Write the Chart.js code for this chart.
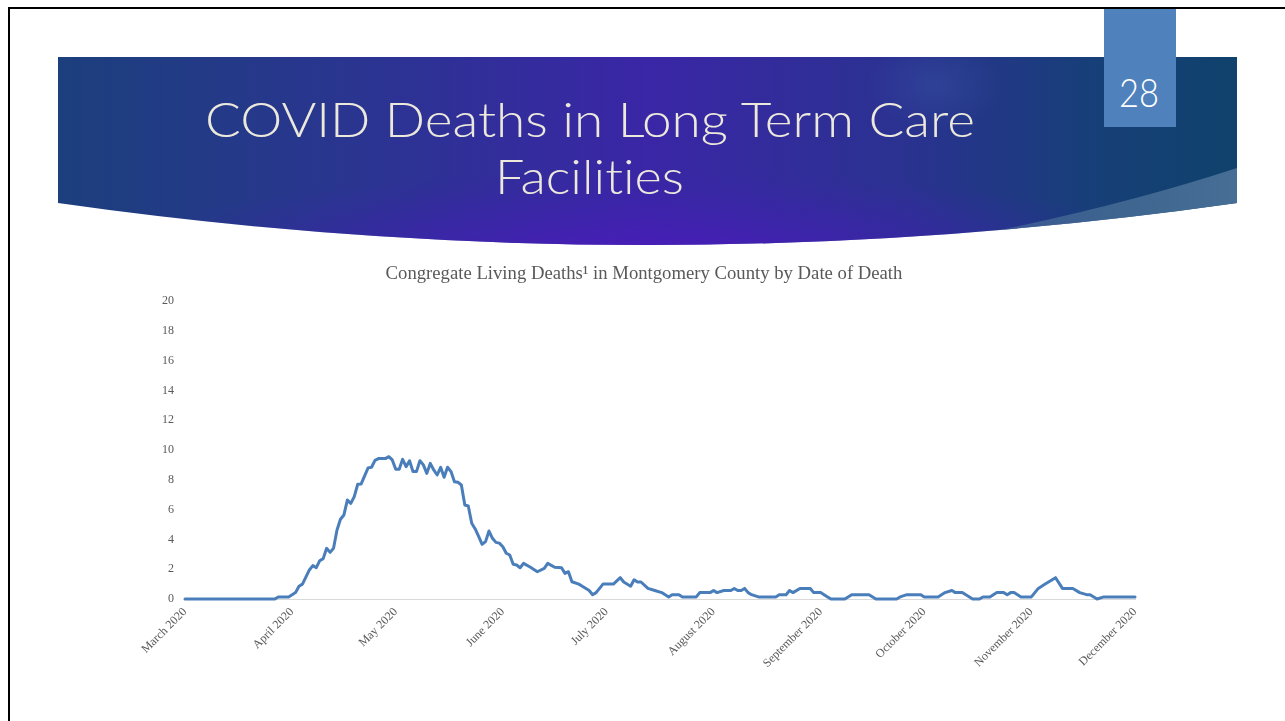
<!DOCTYPE html>
<html>
<head>
<meta charset="utf-8">
<script src="https://cdn.jsdelivr.net/npm/chart.js@4.4.1/dist/chart.umd.min.js"></script>
<style>
  html, body { margin: 0; padding: 0; background: #ffffff; width: 1285px; height: 721px; overflow: hidden; }
  #slide { position: absolute; left: 0; top: 0; }
  #slide text { font-variant-ligatures: none; font-feature-settings: "liga" 0, "clig" 0; }
  #chartBox { position: absolute; left: 100px; top: 250px; width: 1088px; height: 455px; }
</style>
</head>
<body>
<svg id="slide" width="1285" height="721" xmlns="http://www.w3.org/2000/svg">
  <defs>
    <linearGradient id="bannerLin" x1="0" y1="0" x2="1" y2="0">
      <stop offset="0" stop-color="#1c3f7d"/>
      <stop offset="0.25" stop-color="#2a3590"/>
      <stop offset="0.5" stop-color="#3a26a6"/>
      <stop offset="0.72" stop-color="#2a3290"/>
      <stop offset="0.88" stop-color="#173f78"/>
      <stop offset="1" stop-color="#0f426c"/>
    </linearGradient>
    <radialGradient id="bannerRad" cx="0.5" cy="1.05" r="0.45" fx="0.5" fy="1.05">
      <stop offset="0" stop-color="#4c1cbc" stop-opacity="0.95"/>
      <stop offset="0.6" stop-color="#4020b0" stop-opacity="0.4"/>
      <stop offset="1" stop-color="#3a26a6" stop-opacity="0"/>
    </radialGradient>
    <radialGradient id="glow" cx="0.5" cy="0.5" r="0.5">
      <stop offset="0" stop-color="#3c5aa8" stop-opacity="0.35"/>
      <stop offset="1" stop-color="#3c5aa8" stop-opacity="0"/>
    </radialGradient>
    <linearGradient id="swoosh" x1="0" y1="0" x2="1" y2="0">
      <stop offset="0" stop-color="#4a6f98" stop-opacity="0"/>
      <stop offset="0.45" stop-color="#4a6f98" stop-opacity="0.6"/>
      <stop offset="1" stop-color="#476e95" stop-opacity="1"/>
    </linearGradient>
    <clipPath id="bannerClip">
      <path d="M58,57 H1237 V203 Q648,287 58,203 Z"/>
    </clipPath>
  </defs>
  <rect x="0" y="0" width="1285" height="721" fill="#ffffff"/>
  <path d="M58,57 H1237 V203 Q648,287 58,203 Z" fill="url(#bannerLin)"/>
  <path d="M58,57 H1237 V203 Q648,287 58,203 Z" fill="url(#bannerRad)"/>
  <g clip-path="url(#bannerClip)">
    <ellipse cx="935" cy="85" rx="70" ry="45" fill="url(#glow)"/>
    <path d="M820,262 Q1060,226 1237,168 L1237,262 Z" fill="url(#swoosh)"/>
  </g>
  <text x="205" y="136.5" textLength="770" lengthAdjust="spacingAndGlyphs"
        font-family="Lato, 'Open Sans', 'DejaVu Sans', sans-serif" font-weight="300"
        font-size="48" fill="#ece9dc">COVID Deaths in Long Term Care</text>
  <text x="495" y="193.5" textLength="189" lengthAdjust="spacingAndGlyphs"
        font-family="Lato, 'Open Sans', 'DejaVu Sans', sans-serif" font-weight="300"
        font-size="48" fill="#ece9dc">Facilities</text>
  <rect x="1104" y="9" width="72" height="118" fill="#4f81bd"/>
  <text x="1119" y="107" textLength="40" lengthAdjust="spacingAndGlyphs"
        font-family="Lato, 'Open Sans', 'DejaVu Sans', sans-serif" font-weight="300"
        font-size="40" fill="#ffffff">28</text>
  <rect x="8" y="7" width="1277" height="2" fill="#000000"/>
  <rect x="8" y="7" width="2" height="714" fill="#000000"/>
</svg>

<div id="chartBox"><canvas id="c"></canvas></div>

<script>
// ---- data ----
const monthStartDays = [0, 31, 61, 92, 122, 153, 184, 214, 245, 275];
const monthLabels = ['March 2020', 'April 2020', 'May 2020', 'June 2020', 'July 2020',
  'August 2020', 'September 2020', 'October 2020', 'November 2020', 'December 2020'];
const yTickStep = 2;
const yMax = 20;

// days since 1 March 2020 (vertices of the 7-day line)
const dayIndex = [0, 26, 27, 30, 32, 33, 34, 36, 37, 38, 39, 40, 41, 42, 43, 44, 45, 46, 47, 48,
  49, 50, 51, 53, 54, 55, 56, 58, 59, 60, 61, 62, 63, 64, 65, 66, 67, 68, 69, 70,
  71, 72, 73, 74, 75, 76, 77, 78, 79, 80, 81, 82, 83, 84, 85, 86, 87, 88, 89, 90,
  91, 92, 93, 94, 95, 96, 97, 98, 100, 102, 104, 105, 107, 109, 110, 111, 112, 114, 115, 117,
  118, 119, 121, 124, 126, 127, 129, 130, 131, 132, 134, 136, 138, 140, 141, 143, 144, 148, 149, 152,
  153, 154, 156, 158, 159, 160, 161, 162, 163, 164, 166, 171, 172, 174, 175, 176, 178, 181, 182, 184,
  186, 187, 191, 193, 198, 200, 206, 207, 209, 213, 214, 218, 220, 222, 223, 225, 228, 230, 231, 233,
  235, 237, 238, 239, 240, 242, 245, 247, 249, 252, 254, 255, 257, 259, 261, 262, 264, 266, 275];
const deaths = [0, 0, 0.14, 0.14, 0.43, 0.86, 1.0, 1.95, 2.24, 2.1, 2.57, 2.71, 3.4, 3.13, 3.4, 4.63, 5.35, 5.64, 6.64, 6.42,
  6.87, 7.7, 7.72, 8.8, 8.84, 9.3, 9.42, 9.42, 9.55, 9.33, 8.7, 8.7, 9.37, 8.88, 9.28, 8.55, 8.55, 9.28, 9.0, 8.43,
  9.1, 8.66, 8.32, 8.84, 8.17, 8.84, 8.55, 7.87, 7.83, 7.65, 6.31, 6.24, 5.08, 4.7, 4.2, 3.67, 3.85, 4.56, 4.07, 3.8,
  3.75, 3.51, 3.07, 2.95, 2.33, 2.28, 2.1, 2.39, 2.13, 1.83, 2.06, 2.39, 2.13, 2.1, 1.72, 1.83, 1.16, 1.0, 0.86, 0.57,
  0.29, 0.43, 1.0, 1.0, 1.43, 1.14, 0.86, 1.29, 1.14, 1.14, 0.71, 0.57, 0.43, 0.14, 0.29, 0.29, 0.14, 0.14, 0.43, 0.43,
  0.57, 0.43, 0.57, 0.57, 0.71, 0.57, 0.57, 0.71, 0.43, 0.29, 0.14, 0.14, 0.29, 0.29, 0.57, 0.43, 0.71, 0.71, 0.43, 0.43,
  0.14, 0, 0, 0.29, 0.29, 0, 0, 0.14, 0.29, 0.29, 0.14, 0.14, 0.43, 0.57, 0.43, 0.43, 0, 0, 0.14, 0.14,
  0.43, 0.43, 0.29, 0.43, 0.43, 0.14, 0.14, 0.71, 1.0, 1.43, 0.71, 0.71, 0.71, 0.43, 0.29, 0.29, 0, 0.14, 0.14];

const chartTitle = 'Congregate Living Deaths\u00B9 in Montgomery County by Date of Death';

const points = dayIndex.map((d, i) => ({ x: d, y: deaths[i] }));
const grey = '#595959';
const serif = "'Liberation Serif', 'Times New Roman', serif";

new Chart(document.getElementById('c'), {
  type: 'line',
  data: {
    datasets: [{
      data: points,
      borderColor: '#4a7ebb',
      borderWidth: 3,
      pointRadius: 0,
      pointHoverRadius: 0,
      tension: 0,
      fill: false,
      clip: false,
      borderJoinStyle: 'round',
      borderCapStyle: 'round'
    }]
  },
  options: {
    responsive: true,
    maintainAspectRatio: false,
    animation: false,
    events: [],
    layout: { padding: { left: 53, right: 53, top: 0, bottom: 0 } },
    plugins: {
      legend: { display: false },
      tooltip: { enabled: false },
      title: {
        display: true,
        text: chartTitle,
        color: grey,
        font: { family: serif, size: 18.7, weight: 'normal', lineHeight: 1.2 },
        padding: { top: 13, bottom: 15.5 }
      }
    },
    scales: {
      x: {
        type: 'linear',
        min: monthStartDays[0],
        max: monthStartDays[monthStartDays.length - 1],
        afterBuildTicks: (s) => { s.ticks = monthStartDays.map(v => ({ value: v })); },
        afterFit: (s) => { s.height = 106; s.paddingLeft = 0; s.paddingRight = 0; },
        grid: { display: false, drawTicks: false },
        border: { display: true, color: '#d9d9d9', width: 1 },
        ticks: {
          autoSkip: false,
          minRotation: 45,
          maxRotation: 45,
          padding: 6,
          color: grey,
          font: { family: serif, size: 12 },
          callback: (v) => monthLabels[monthStartDays.indexOf(v)]
        }
      },
      y: {
        min: 0,
        max: yMax,
        afterFit: (s) => { s.width = 32; },
        grid: { display: false, drawTicks: false },
        border: { display: false },
        ticks: {
          stepSize: yTickStep,
          padding: 11,
          color: grey,
          font: { family: serif, size: 12 }
        }
      }
    }
  }
});
</script>
</body>
</html>
